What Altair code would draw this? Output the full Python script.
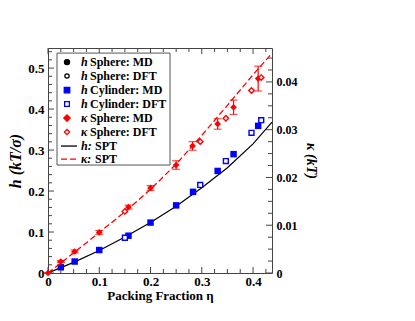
import altair as alt
import pandas as pd

# ---------------- data ----------------
eta_md = [0.025, 0.052, 0.1, 0.157, 0.2, 0.25, 0.283, 0.331, 0.362, 0.41]
h_sphere_md = [0.014, 0.028, 0.056, 0.091, 0.123, 0.165, 0.198, 0.249, 0.290, 0.359]
h_cyl_md = [0.014, 0.028, 0.056, 0.091, 0.123, 0.165, 0.198, 0.249, 0.290, 0.359]

eta_dft = [0.15, 0.297, 0.347, 0.397, 0.416]
h_sphere_dft = [0.086, 0.215, 0.273, 0.342, 0.373]
h_cyl_dft = [0.086, 0.215, 0.273, 0.342, 0.373]

eta_k_md = [0.0, 0.025, 0.052, 0.1, 0.157, 0.2, 0.25, 0.282, 0.331, 0.362, 0.41]
k_md = [0.0, 0.0024, 0.0045, 0.0085, 0.0138, 0.0178, 0.0226, 0.0266, 0.0312, 0.0347, 0.0407]
k_err = [0.0, 0.0002, 0.0003, 0.0004, 0.0004, 0.0005, 0.0009, 0.0009, 0.0011, 0.0015, 0.0026]

eta_k_dft = [0.15, 0.297, 0.347, 0.397, 0.416]
k_dft = [0.0129, 0.0275, 0.0324, 0.0382, 0.0409]

eta_spt = [0.0, 0.05, 0.1, 0.15, 0.2, 0.25, 0.3, 0.35, 0.4, 0.437]
h_spt = [0.0, 0.026, 0.055, 0.088, 0.123, 0.163, 0.208, 0.257, 0.315, 0.368]
k_spt = [0.0, 0.0042, 0.0085, 0.0128, 0.0175, 0.0228, 0.0288, 0.0351, 0.0415, 0.0460]

x_major = [0, 0.1, 0.2, 0.3, 0.4]
x_minor = [0.025, 0.05, 0.075, 0.125, 0.15, 0.175, 0.225, 0.25, 0.275, 0.325, 0.35, 0.375, 0.425]
h_major = [0, 0.1, 0.2, 0.3, 0.4, 0.5]
h_minor = [0.02, 0.04, 0.06, 0.08, 0.12, 0.14, 0.16, 0.18, 0.22, 0.24, 0.26, 0.28,
           0.32, 0.34, 0.36, 0.38, 0.42, 0.44, 0.46, 0.48, 0.52, 0.54]
k_major = [0, 0.01, 0.02, 0.03, 0.04]
k_minor = [0.0025, 0.005, 0.0075, 0.0125, 0.015, 0.0175, 0.0225, 0.025, 0.0275,
           0.0325, 0.035, 0.0375, 0.0425, 0.045]

leg_head = ["h", "h", "h", "h", "κ", "κ", "h:", "κ:"]
leg_rest = ["Sphere: MD", "Sphere: DFT", "Cylinder: MD", "Cylinder: DFT",
            "Sphere: MD", "Sphere: DFT", "SPT", "SPT"]

# ---------------- layout helpers ----------------
W, H = 224, 225
FONT = "Liberation Serif"
BLUE = "#0000ff"
RED = "#ff0000"
TICK = "#444444"

xs = alt.Scale(domain=[0, 0.437], nice=False, zero=False)
hs = alt.Scale(domain=[0, 0.549], nice=False, zero=False)
ks = alt.Scale(domain=[0, 0.0471], nice=False, zero=False)

x_axis = alt.Axis(values=x_major, format="~g", ticks=False, domain=False, grid=False,
                  labelFlush=False,
                  labelFont=FONT, labelFontSize=13, labelFontWeight="bold", labelPadding=2,
                  labelColor="black", title="Packing Fraction η", titleFont=FONT,
                  titleFontSize=13, titleFontWeight="bold", titlePadding=1, titleColor="black")
h_axis = alt.Axis(values=h_major, format="~g", ticks=False, domain=False, grid=False,
                  labelFlush=False,
                  labelFont=FONT, labelFontSize=13, labelFontWeight="bold", labelPadding=4,
                  labelColor="black", title="h (kT/σ)", titleFont=FONT, titleFontSize=16,
                  titleFontWeight="bold", titleFontStyle="italic", titlePadding=4,
                  titleColor="black", orient="left")
k_axis = alt.Axis(values=k_major, format="~g", ticks=False, domain=False, grid=False,
                  labelFlush=False,
                  labelFont=FONT, labelFontSize=12, labelFontWeight="bold", labelPadding=4,
                  labelColor="black", title="κ (kT)", titleFont=FONT, titleFontSize=14,
                  titleFontWeight="bold", titleFontStyle="italic", titlePadding=6,
                  titleColor="black", orient="right")


def X(field="eta"):
    return alt.X(f"{field}:Q", scale=xs, axis=x_axis)


def YH(field):
    return alt.Y(f"{field}:Q", scale=hs, axis=h_axis)


def YK(field):
    return alt.Y(f"{field}:Q", scale=ks, axis=k_axis)


# ---------------- h group ----------------
df_hspt = pd.DataFrame({"eta": eta_spt, "v": h_spt})
df_hsmd = pd.DataFrame({"eta": eta_md, "v": h_sphere_md})
df_hcmd = pd.DataFrame({"eta": eta_md, "v": h_cyl_md})
df_hsdft = pd.DataFrame({"eta": eta_dft, "v": h_sphere_dft})
df_hcdft = pd.DataFrame({"eta": eta_dft, "v": h_cyl_dft})

h_line = alt.Chart(df_hspt).mark_line(color="black", strokeWidth=1.2, clip=True).encode(
    x=X(), y=YH("v"))
h_s_md = alt.Chart(df_hsmd).mark_point(shape="circle", filled=True, color="black", size=22,
                                        opacity=1).encode(x=X(), y=YH("v"))
h_s_dft = alt.Chart(df_hsdft).mark_point(shape="circle", filled=False, color="black", size=16,
                                          strokeWidth=1, opacity=1).encode(x=X(), y=YH("v"))
h_c_md = alt.Chart(df_hcmd).mark_point(shape="square", filled=True, color=BLUE, size=42,
                                        opacity=1).encode(x=X(), y=YH("v"))
h_c_dft = alt.Chart(df_hcdft).mark_point(shape="square", fill="white", stroke=BLUE, size=24,
                                          strokeWidth=1.4, opacity=1).encode(x=X(), y=YH("v"))

# ticks (inward)
df_xM = pd.DataFrame({"eta": x_major})
df_xm = pd.DataFrame({"eta": x_minor})
df_hM = pd.DataFrame({"v": h_major})
df_hm = pd.DataFrame({"v": h_minor})


def xticks(df, L):
    b = alt.Chart(df).mark_rule(color=TICK, strokeWidth=1).encode(
        x=X(), y=alt.value(H), y2=alt.value(H - L))
    t = alt.Chart(df).mark_rule(color=TICK, strokeWidth=1).encode(
        x=X(), y=alt.value(0), y2=alt.value(L))
    return [b, t]


def lticks(df, L):
    return alt.Chart(df).mark_rule(color=TICK, strokeWidth=1).encode(
        y=YH("v"), x=alt.value(0), x2=alt.value(L))


# legend (positions in plot data units)
leg_py = [62, 76, 90, 104, 118, 132, 146, 159]
leg_h = [(273 - p) / 410 for p in leg_py]
sym_eta = (67 - 48) / 512.5
head_eta = (81 - 48) / 512.5
rest_eta = [(90 - 48) / 512.5] * 6 + [(95 - 48) / 512.5] * 2

df_box = pd.DataFrame({"x1": [(57 - 48) / 512.5], "x2": [(170 - 48) / 512.5],
                       "y1": [(273 - 53) / 410], "y2": [(273 - 165) / 410]})
box = alt.Chart(df_box).mark_rect(fill="white", stroke="#555555", strokeWidth=1).encode(
    x=alt.X("x1:Q", scale=xs, axis=x_axis), x2="x2:Q",
    y=alt.Y("y1:Q", scale=hs, axis=h_axis), y2="y2:Q")

df_legsym = pd.DataFrame({
    "eta": [sym_eta] * 6, "v": leg_h[:6],
    "shape": ["circle", "circle", "square", "square", "diamond", "diamond"],
    "fill": ["black", "white", BLUE, "white", RED, "white"],
    "stroke": ["black", "black", BLUE, BLUE, RED, RED],
    "size": [26, 18, 30, 22, 40, 26],
})
leg_sym = alt.Chart(df_legsym).mark_point(opacity=1, strokeWidth=1.3).encode(
    x=X(), y=YH("v"),
    shape=alt.Shape("shape:N", scale=None),
    fill=alt.Fill("fill:N", scale=None),
    stroke=alt.Stroke("stroke:N", scale=None),
    size=alt.Size("size:Q", scale=None))

df_l1 = pd.DataFrame({"a": [(61 - 48) / 512.5], "b": [(77 - 48) / 512.5], "v": [leg_h[6]]})
df_l2 = pd.DataFrame({"a": [(61 - 48) / 512.5], "b": [(77 - 48) / 512.5], "v": [leg_h[7]]})
leg_line1 = alt.Chart(df_l1).mark_rule(color="black", strokeWidth=1.3).encode(
    x=alt.X("a:Q", scale=xs, axis=x_axis), x2="b:Q", y=YH("v"))
leg_line2 = alt.Chart(df_l2).mark_rule(color=RED, strokeWidth=1.3, strokeDash=[6, 3]).encode(
    x=alt.X("a:Q", scale=xs, axis=x_axis), x2="b:Q", y=YH("v"))

df_legtxt = pd.DataFrame({"head": leg_head, "rest": leg_rest, "v": leg_h,
                          "hx": [head_eta] * 8, "rx": rest_eta})
leg_head_t = alt.Chart(df_legtxt).mark_text(
    align="left", baseline="middle", font=FONT, fontSize=12, fontWeight="bold",
    fontStyle="italic", color="black").encode(
    x=alt.X("hx:Q", scale=xs, axis=x_axis), y=YH("v"), text="head:N")
leg_rest_t = alt.Chart(df_legtxt).mark_text(
    align="left", baseline="middle", font=FONT, fontSize=12, fontWeight="bold",
    color="black").encode(
    x=alt.X("rx:Q", scale=xs, axis=x_axis), y=YH("v"), text="rest:N")

h_group = alt.layer(
    *xticks(df_xM, 6), *xticks(df_xm, 4), lticks(df_hM, 6), lticks(df_hm, 4),
    h_line, h_s_md, h_s_dft, h_c_md, h_c_dft,
    box, leg_sym, leg_line1, leg_line2, leg_head_t, leg_rest_t,
)

# ---------------- kappa group ----------------
df_kspt = pd.DataFrame({"eta": eta_spt, "v": k_spt})
df_kmd = pd.DataFrame({"eta": eta_k_md, "v": k_md,
                       "lo": [a - b for a, b in zip(k_md, k_err)],
                       "hi": [a + b for a, b in zip(k_md, k_err)]})
df_kdft = pd.DataFrame({"eta": eta_k_dft, "v": k_dft})
df_kM = pd.DataFrame({"v": k_major})
df_km = pd.DataFrame({"v": k_minor})


def rticks(df, L):
    return alt.Chart(df).mark_rule(color=TICK, strokeWidth=1).encode(
        y=YK("v"), x=alt.value(W), x2=alt.value(W - L))


k_line = alt.Chart(df_kspt).mark_line(color=RED, strokeWidth=1.3, strokeDash=[6, 3],
                                      clip=True).encode(x=X(), y=YK("v"))
k_err_r = alt.Chart(df_kmd).mark_rule(color=RED, strokeWidth=1.2).encode(
    x=X(), y=YK("lo"), y2="hi:Q")
k_cap_lo = alt.Chart(df_kmd).mark_tick(color=RED, orient="horizontal", size=8,
                                       thickness=1.2).encode(x=X(), y=YK("lo"))
k_cap_hi = alt.Chart(df_kmd).mark_tick(color=RED, orient="horizontal", size=8,
                                       thickness=1.2).encode(x=X(), y=YK("hi"))
k_md_p = alt.Chart(df_kmd).mark_point(shape="diamond", filled=True, color=RED, size=45,
                                      opacity=1).encode(x=X(), y=YK("v"))
k_dft_p = alt.Chart(df_kdft).mark_point(shape="diamond", fill="white", stroke=RED, size=30,
                                        strokeWidth=1.4, opacity=1).encode(x=X(), y=YK("v"))

k_group = alt.layer(rticks(df_kM, 6), rticks(df_km, 4),
                    k_line, k_err_r, k_cap_lo, k_cap_hi, k_md_p, k_dft_p)

chart = alt.layer(h_group, k_group).resolve_scale(y="independent").properties(
    width=W, height=H,
    autosize=alt.AutoSizeParams(type="none"),
    padding={"left": 40, "top": 40, "right": 100, "bottom": 40},
).configure_view(stroke="#444444", strokeWidth=1)

chart.save("out.html", embed_options={"renderer": "svg", "actions": False})
